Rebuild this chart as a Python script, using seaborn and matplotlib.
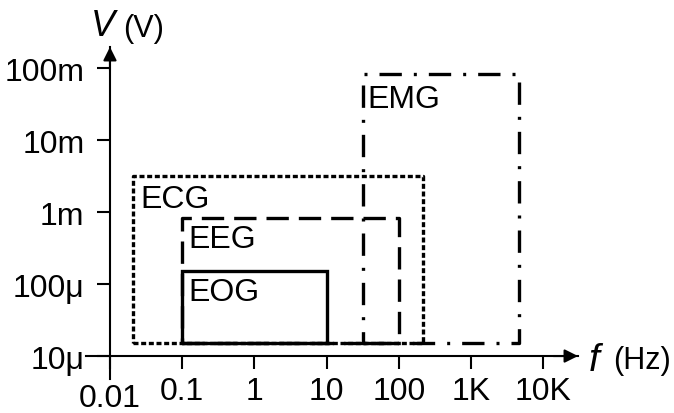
import numpy as np
import pandas as pd
import matplotlib
matplotlib.use("Agg")
import matplotlib.pyplot as plt
import seaborn as sns
from matplotlib.ticker import NullLocator, FixedLocator, FixedFormatter

# ---- data ----
signals = ["EOG", "EEG", "ECG", "EMG"]
f_low = [0.1, 0.1, 0.021, 32]
f_high = [10, 100, 215, 4600]
v_low = [1.5e-5, 1.5e-5, 1.5e-5, 1.5e-5]
v_high = [1.5e-4, 8.3e-4, 3.2e-3, 8.3e-2]

x_ticks = [0.01, 0.1, 1, 10, 100, 1000, 10000]
x_tick_labels = ["0.01", "0.1", "1", "10", "100", "1K", "10K"]
y_ticks = [1e-5, 1e-4, 1e-3, 1e-2, 1e-1]
y_tick_labels = ["10μ", "100μ", "1m", "10m", "100m"]

# ---- styles ----
dash_map = {"EOG": "", "EEG": (6.7, 3.0), "ECG": (1.5, 0.8), "EMG": (6.7, 3.6, 0.9, 3.6)}
label_offsets_px = {"EOG": (6, -6), "EEG": (6, -6), "ECG": (7, -8), "EMG": (4, -10)}

rows = []
for s, x0, x1, y0, y1 in zip(signals, f_low, f_high, v_low, v_high):
    for xx, yy in [(x0, y0), (x1, y0), (x1, y1), (x0, y1), (x0, y0)]:
        rows.append({"signal": s, "f": xx, "v": yy})
df = pd.DataFrame(rows)

sns.set_theme(style="ticks")
plt.rcParams["font.family"] = ["Liberation Sans", "DejaVu Sans"]
plt.rcParams["axes.edgecolor"] = "black"
plt.rcParams["xtick.color"] = "black"
plt.rcParams["ytick.color"] = "black"
plt.rcParams["text.color"] = "black"

FS = 23
W, H = 674, 414
fig = plt.figure(figsize=(W / 100, H / 100), dpi=100)
left_px, right_px, top_px, bottom_px = 86, 578, 48, 380
ax = fig.add_axes([left_px / W, 1 - bottom_px / H, (right_px - left_px) / W, (bottom_px - top_px) / H])

sns.lineplot(data=df, x="f", y="v", style="signal", dashes=dash_map, color="black",
             sort=False, estimator=None, legend=False, linewidth=2.4, ax=ax)
for ln in ax.get_lines():
    ln.set_dash_capstyle("butt")
    ln.set_solid_joinstyle("miter")

ax.set_xscale("log")
ax.set_yscale("log")
ax.set_xlim(10 ** -2.332, 10 ** 4.482)
ax.set_ylim(10 ** -5.319, 10 ** -0.708)
ax.set_xlabel("")
ax.set_ylabel("")

ax.spines["top"].set_visible(False)
ax.spines["right"].set_visible(False)
ax.spines["left"].set_position(("data", 0.01))
ax.spines["bottom"].set_position(("data", 1e-5))
for sp in ("left", "bottom"):
    ax.spines[sp].set_linewidth(1.5)

ax.xaxis.set_major_locator(FixedLocator(x_ticks))
ax.xaxis.set_major_formatter(FixedFormatter(x_tick_labels))
ax.yaxis.set_major_locator(FixedLocator(y_ticks))
ax.yaxis.set_major_formatter(FixedFormatter(y_tick_labels))
ax.xaxis.set_minor_locator(NullLocator())
ax.yaxis.set_minor_locator(NullLocator())
ax.tick_params(axis="both", which="major", direction="out", length=9.4, width=1.5,
               labelsize=FS, bottom=True, left=True)
ax.tick_params(axis="x", pad=5)
ax.tick_params(axis="y", pad=9.0)
ax.xaxis.get_major_ticks()[0].set_pad(9.8)

# arrows
ax.annotate("", xy=(1.0, 1e-5), xycoords=ax.get_yaxis_transform(),
            xytext=(0.95, 1e-5), textcoords=ax.get_yaxis_transform(),
            arrowprops=dict(arrowstyle="-|>", color="black", lw=1.5,
                            mutation_scale=20, shrinkA=0, shrinkB=0))
ax.annotate("", xy=(0.01, 1.0), xycoords=ax.get_xaxis_transform(),
            xytext=(0.01, 0.93), textcoords=ax.get_xaxis_transform(),
            arrowprops=dict(arrowstyle="-|>", color="black", lw=1.5,
                            mutation_scale=20, shrinkA=0, shrinkB=0))

# signal labels
for s, x0, y1 in zip(signals, f_low, v_high):
    dx, dy = label_offsets_px[s]
    ax.annotate(s, xy=(x0, y1), xytext=(dx * 0.72, dy * 0.72), textcoords="offset points",
                ha="left", va="top", fontsize=FS)

# axis titles
fig.text(91 / W, 1 - 36 / H, "V", fontsize=26, style="italic", ha="left", va="baseline")
fig.text(123 / W, 1 - 37 / H, "(V)", fontsize=22, ha="left", va="baseline")
fig.text(589 / W, 1 - 371 / H, "f", fontsize=28, style="italic", ha="left", va="baseline")
fig.text(613 / W, 1 - 369 / H, "(Hz)", fontsize=22, ha="left", va="baseline")

fig.savefig("out.png", dpi=100, facecolor="white")
